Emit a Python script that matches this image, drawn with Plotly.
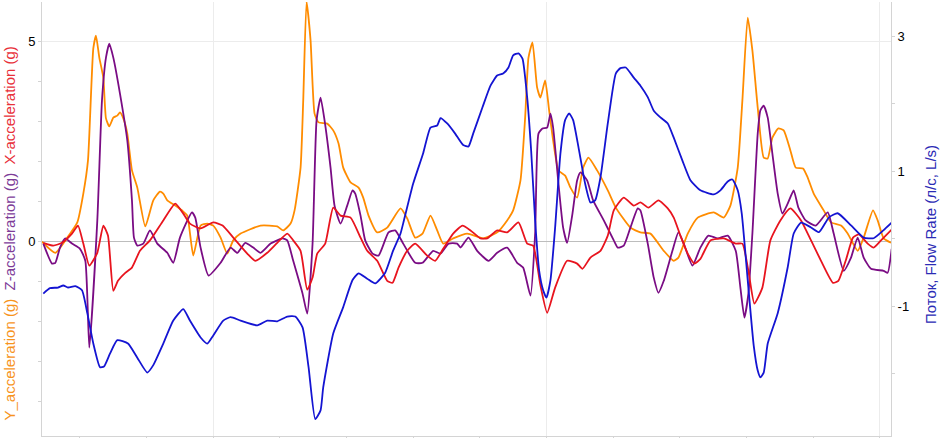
import plotly.graph_objects as go

############################################ DATA
# time (s) and acceleration (g) - Y axis, orange
t_y_acc = [2.43, 2.63, 2.81, 2.96, 3.05, 3.12, 3.20, 3.24, 3.29, 3.35,
           3.39, 3.44, 3.50, 3.56, 3.60, 3.65, 3.71, 3.78, 3.86, 3.98,
           4.10, 4.20, 4.25, 4.31, 4.43, 4.55, 4.61, 4.70, 4.81, 4.91,
           5.00, 5.11, 5.21, 5.30, 5.41, 5.71, 5.96, 6.05, 6.16, 6.22,
           6.31, 6.35, 6.40, 6.46, 6.52, 6.58, 6.71, 6.80, 6.88, 6.95,
           7.06, 7.18, 7.25, 7.33, 7.46, 7.61, 7.81, 7.91, 8.03, 8.14,
           8.26, 8.36, 8.45, 8.60, 8.81, 9.05, 9.26, 9.41, 9.50, 9.61,
           9.68, 9.73, 9.79, 9.86, 9.91, 9.98, 10.04, 10.10, 10.18, 10.28,
           10.36, 10.46, 10.55, 10.63, 10.76, 10.92, 11.04, 11.26, 11.41, 11.56,
           11.76, 11.91, 11.98, 12.12, 12.27, 12.51, 12.66, 12.76, 12.87, 12.94,
           13.02, 13.09, 13.17, 13.26, 13.32, 13.39, 13.48, 13.56, 13.66, 13.74,
           13.85, 13.92, 14.01, 14.16, 14.27, 14.42, 14.52, 14.67, 14.76, 14.90,
           14.97, 15.06, 15.17]
y_acc = [0.0, -0.28, 0.1, 0.48, 1.2, 2.03, 4.83, 5.15, 4.6, 4.1,
         3.08, 2.88, 3.1, 3.15, 3.23, 3.08, 2.7, 1.78, 1.35, 0.38,
         1.03, 1.25, 1.2, 1.03, 0.9, 0.75, 0.65, -0.35, 0.4, 0.45,
         0.4, 0.1, -0.3, 0.03, 0.2, 0.4, 0.38, 0.28, 0.45, 0.78,
         1.85, 3.53, 6.0, 5.03, 3.2, 2.98, 2.95, 2.78, 2.45, 1.85,
         1.48, 1.35, 1.1, 0.65, 0.23, 0.35, 0.83, 0.58, 0.1, 0.2,
         0.65, 0.28, -0.05, 0.08, 0.2, 0.08, 0.23, 0.53, 0.78, 1.53,
         3.1, 4.6, 4.98, 3.85, 3.6, 4.03, 3.28, 2.53, 1.78, 1.65,
         1.35, 1.1, 1.85, 2.1, 1.78, 1.28, 0.85, 0.35, 0.23, 0.2,
         -0.23, -0.48, -0.4, 0.2, 0.6, 0.73, 0.6, 0.9, 1.85, 3.53,
         5.6, 4.78, 3.35, 2.1, 2.08, 2.6, 2.83, 2.78, 2.28, 1.85,
         1.83, 1.6, 1.2, 0.78, 0.48, 0.4, 0.2, -0.23, 0.1, 0.78,
         0.53, 0.08, -0.03]

# Z axis, purple
t_z_acc = [2.45, 2.58, 2.63, 2.70, 2.78, 2.88, 3.00, 3.08, 3.14, 3.26,
           3.33, 3.39, 3.44, 3.50, 3.60, 3.71, 3.78, 3.81, 3.86, 3.95,
           4.05, 4.16, 4.31, 4.40, 4.50, 4.68, 4.73, 4.81, 4.93, 5.11,
           5.26, 5.36, 5.48, 5.60, 5.71, 5.86, 6.04, 6.11, 6.20, 6.34,
           6.41, 6.49, 6.55, 6.61, 6.67, 6.76, 6.82, 6.91, 7.01, 7.09,
           7.13, 7.21, 7.28, 7.39, 7.48, 7.63, 7.73, 7.85, 8.03, 8.14,
           8.30, 8.41, 8.53, 8.66, 8.71, 8.83, 8.96, 9.13, 9.26, 9.41,
           9.56, 9.65, 9.76, 9.83, 9.88, 9.94, 10.01, 10.06, 10.10, 10.18,
           10.25, 10.31, 10.39, 10.46, 10.51, 10.61, 10.70, 10.86, 11.01, 11.07,
           11.16, 11.26, 11.37, 11.41, 11.52, 11.61, 11.68, 11.76, 11.89, 11.98,
           12.06, 12.19, 12.31, 12.43, 12.57, 12.72, 12.84, 12.91, 12.97, 13.03,
           13.09, 13.17, 13.21, 13.26, 13.32, 13.39, 13.47, 13.54, 13.62, 13.71,
           13.78, 13.89, 14.04, 14.22, 14.31, 14.46, 14.57, 14.67, 14.76, 14.87,
           15.06, 15.12, 15.18]
z_acc = [-0.05, -0.55, -0.53, -0.15, 0.08, -0.05, -0.18, -0.48, -2.65, 0.53,
         3.53, 4.6, 4.95, 4.6, 3.7, 2.53, 1.03, 0.1, -0.1, -0.05,
         0.28, -0.05, -0.28, -0.53, 0.1, 0.73, 0.6, -0.15, -0.85, -0.53,
         -0.15, -0.28, -0.03, -0.15, -0.28, -0.05, 0.08, 0.03, -0.48, -1.3,
         -1.8, -0.05, 3.03, 3.6, 3.03, 1.85, 0.9, 0.45, 0.9, 1.28,
         1.2, 0.65, 0.03, -0.3, -0.35, 0.23, 0.28, -0.05, -0.53, -0.53,
         -0.23, -0.3, -0.05, -0.05, -0.15, 0.1, -0.23, -0.48, -0.28, -0.15,
         -0.53, -0.65, -1.35, 0.2, 2.7, 2.83, 2.85, 3.2, 2.85, 1.45,
         0.35, -0.03, 0.7, 1.53, 1.73, 1.53, 1.03, 0.53, 0.03, -0.15,
         -0.1, 0.35, 0.83, 0.78, -0.05, -0.9, -1.28, -0.98, -0.23, 0.23,
         -0.05, -0.6, -0.15, 0.15, 0.08, 0.15, -0.23, -1.15, -1.9, -1.3,
         0.2, 2.7, 3.28, 3.4, 3.1, 2.2, 1.2, 0.7, 0.95, 1.28,
         0.85, 0.53, 0.4, 0.73, 0.2, -0.73, -0.4, 0.1, -0.4, -0.68,
         -0.73, -0.78, -0.18]

# X axis, red
t_x_acc = [2.45, 2.60, 2.73, 2.88, 2.97, 3.05, 3.14, 3.26, 3.35, 3.42,
           3.50, 3.57, 3.68, 3.78, 3.90, 4.05, 4.25, 4.43, 4.55, 4.65,
           4.81, 5.00, 5.14, 5.30, 5.51, 5.63, 5.81, 5.96, 6.11, 6.20,
           6.31, 6.41, 6.49, 6.56, 6.68, 6.80, 6.91, 7.06, 7.21, 7.31,
           7.46, 7.61, 7.69, 7.78, 7.91, 8.03, 8.21, 8.33, 8.45, 8.60,
           8.74, 8.86, 9.01, 9.11, 9.26, 9.41, 9.58, 9.71, 9.80, 9.91,
           10.01, 10.13, 10.31, 10.46, 10.54, 10.66, 10.81, 10.92, 11.01, 11.16,
           11.31, 11.41, 11.53, 11.68, 11.82, 11.91, 12.01, 12.12, 12.22, 12.31,
           12.46, 12.66, 12.84, 12.94, 13.03, 13.12, 13.24, 13.36, 13.51, 13.66,
           13.82, 13.97, 14.12, 14.30, 14.38, 14.49, 14.60, 14.69, 14.82, 14.91,
           15.02, 15.18]
x_acc = [-0.03, -0.1, -0.03, 0.2, 0.4, -0.05, -0.6, -0.28, 0.4, 0.15,
         -1.23, -0.98, -0.78, -0.65, -0.23, 0.03, 0.53, 0.95, 0.7, 0.45,
         0.33, 0.48, 0.4, 0.1, -0.3, -0.48, -0.28, -0.03, 0.2, 0.03,
         -0.23, -1.2, -0.9, -0.3, -0.05, 0.85, 0.65, 0.6, 0.1, -0.23,
         -0.48, -0.98, -1.03, -0.65, -0.23, -0.05, -0.35, -0.48, -0.18, 0.2,
         0.4, 0.28, 0.08, 0.08, 0.28, 0.23, 0.48, -0.05, -0.1, -1.1,
         -1.78, -1.15, -0.48, -0.55, -0.68, -0.4, -0.23, 0.15, 0.78, 1.1,
         0.9, 0.98, 0.85, 1.03, 0.83, 0.6, 0.15, -0.3, -0.55, -0.43,
         0.03, 0.08, -0.05, -0.05, -0.73, -1.55, -1.15, 0.03, 0.53, 0.83,
         0.53, 0.03, -0.48, -1.03, -0.98, -0.48, 0.1, 0.18, -0.05, -0.15,
         0.03, 0.3]

# flow rate (L/s), blue, right axis
t_flow = [2.45, 2.55, 2.67, 2.75, 2.82, 2.93, 3.03, 3.11, 3.20, 3.30,
          3.36, 3.45, 3.56, 3.72, 3.86, 4.01, 4.10, 4.25, 4.40, 4.55,
          4.65, 4.81, 4.91, 5.00, 5.15, 5.26, 5.41, 5.66, 5.81, 5.96,
          6.11, 6.23, 6.34, 6.43, 6.53, 6.61, 6.65, 6.80, 6.95, 7.09,
          7.18, 7.31, 7.43, 7.58, 7.70, 7.81, 7.86, 8.00, 8.15, 8.26,
          8.36, 8.41, 8.51, 8.63, 8.75, 8.83, 8.90, 9.04, 9.16, 9.26,
          9.35, 9.43, 9.50, 9.58, 9.64, 9.71, 9.77, 9.83, 9.89, 9.95,
          10.00, 10.06, 10.13, 10.21, 10.28, 10.34, 10.40, 10.48, 10.58, 10.66,
          10.73, 10.81, 10.92, 11.04, 11.11, 11.19, 11.31, 11.41, 11.52, 11.61,
          11.71, 11.82, 11.91, 12.04, 12.16, 12.31, 12.51, 12.61, 12.72, 12.79,
          12.87, 12.93, 13.02, 13.11, 13.17, 13.21, 13.26, 13.32, 13.47, 13.62,
          13.71, 13.82, 13.97, 14.09, 14.24, 14.37, 14.57, 14.76, 14.91, 15.06,
          15.18]
flow = [-0.81, -0.73, -0.72, -0.69, -0.72, -0.70, -0.76, -1.10, -1.55, -1.90,
        -1.89, -1.70, -1.50, -1.55, -1.76, -1.98, -1.87, -1.55, -1.21, -1.04,
        -1.21, -1.46, -1.55, -1.43, -1.21, -1.16, -1.21, -1.28, -1.21, -1.22,
        -1.15, -1.15, -1.31, -1.90, -2.67, -2.54, -2.20, -1.40, -1.01, -0.61,
        -0.51, -0.59, -0.66, -0.50, -0.17, 0.08, 0.27, 0.82, 1.27, 1.65,
        1.68, 1.79, 1.71, 1.56, 1.39, 1.37, 1.56, 1.95, 2.27, 2.42,
        2.45, 2.54, 2.72, 2.75, 2.67, 2.10, 1.31, 0.27, -0.47, -0.76,
        -0.87, -0.61, 0.17, 1.27, 1.76, 1.86, 1.76, 1.36, 0.82, 0.54,
        0.57, 0.91, 1.71, 2.45, 2.53, 2.54, 2.39, 2.27, 2.10, 1.90,
        1.80, 1.71, 1.50, 1.16, 0.87, 0.72, 0.66, 0.72, 0.85, 0.88,
        0.72, 0.38, -0.61, -1.58, -1.95, -2.05, -1.98, -1.55, -1.10, -0.42,
        0.08, 0.24, 0.17, 0.10, 0.32, 0.38, 0.20, 0.02, 0.01, 0.13,
        0.24]

for a, b in [(t_y_acc, y_acc), (t_z_acc, z_acc), (t_x_acc, x_acc), (t_flow, flow)]:
    assert len(a) == len(b), (len(a), len(b))

######################################### FIGURE
font_main = "Arial, Liberation Sans, sans-serif"
axis_grey = '#d4d4d4'

def add_line(x, y, color, name, yaxis = 'y'):
    fig.add_trace(go.Scatter(x = x, y = y, mode = 'lines', name = name, yaxis = yaxis,
                             line = dict(color = color, width = 1.8, shape = 'spline', smoothing = 0.5)))

fig = go.Figure()
add_line(t_y_acc, y_acc, '#FF8C00', 'Y_acceleration (g)')
add_line(t_z_acc, z_acc, '#7A0C84', 'Z-acceleration (g)')
add_line(t_x_acc, x_acc, '#E8141E', 'X-acceleration (g)')
add_line(t_flow, flow, '#1414D2', 'Flow Rate', yaxis = 'y2')

fig.update_layout(width = 940, height = 438, showlegend = False,
                  margin = dict(l = 42, r = 49, t = 2, b = 2),
                  plot_bgcolor = 'white', paper_bgcolor = 'white',
                  font = dict(family = font_main, size = 13, color = 'black'))

fig.update_xaxes(range = [2.43, 15.17], showticklabels = False, automargin = False,
                 tick0 = 0, dtick = 5, ticks = 'outside', ticklen = 3, tickcolor = axis_grey,
                 showgrid = True, gridcolor = '#ececec', zeroline = False,
                 showline = True, linecolor = axis_grey, linewidth = 1,
                 minor = dict(dtick = 1, tick0 = 0, ticks = 'outside', ticklen = 3,
                              tickcolor = axis_grey, showgrid = False))

fig.update_layout(yaxis = dict(range = [-4.86, 5.99], tick0 = 0, dtick = 5, automargin = False,
                               ticks = 'outside', ticklen = 3, tickcolor = axis_grey,
                               showgrid = True, gridcolor = '#ececec',
                               zeroline = True, zerolinecolor = '#bdbdbd', zerolinewidth = 1,
                               showline = True, linecolor = axis_grey,
                               tickfont = dict(size = 13, color = 'black'),
                               minor = dict(dtick = 1, tick0 = 0, ticks = 'outside', ticklen = 3,
                                            tickcolor = axis_grey, showgrid = False)),
                  yaxis2 = dict(range = [-2.92, 3.51], overlaying = 'y', side = 'right', automargin = False,
                                tickmode = 'array', tickvals = [-1, 1, 3], ticktext = ['-1', '1', '3'],
                                ticks = 'outside', ticklen = 3, tickcolor = axis_grey,
                                showgrid = False, zeroline = False,
                                showline = True, linecolor = axis_grey,
                                tickfont = dict(size = 13, color = 'black'),
                                minor = dict(tickmode = 'linear', dtick = 1, tick0 = 0, ticks = 'outside',
                                             ticklen = 3, tickcolor = axis_grey, showgrid = False)))

# axis titles as annotations so they sit where the original ones do
left_title = ('<span style="color:#F7941D">Y_acceleration (g)</span>&nbsp;&nbsp;'
              '<span style="color:#7D3C98">Z-acceleration (g)</span>&nbsp;&nbsp;'
              '<span style="color:#E8303A">X-acceleration (g)</span>')
fig.add_annotation(text = left_title, xref = 'paper', yref = 'paper', x = -0.038, y = 0.466,
                   xanchor = 'center', yanchor = 'middle', textangle = -90, showarrow = False,
                   font = dict(family = font_main, size = 15))
fig.add_annotation(text = 'Поток, Flow Rate (л/c, L/s)', xref = 'paper', yref = 'paper',
                   x = 1.046, y = 0.463, xanchor = 'center', yanchor = 'middle', textangle = -90,
                   showarrow = False, font = dict(family = font_main, size = 15, color = '#2B2BB5'))

# page body has an 8px default margin, drop it so the chart fills the window
fig.write_html("out.html", config = {'displayModeBar': False},
               post_script = "document.body.style.margin = '0px';")
